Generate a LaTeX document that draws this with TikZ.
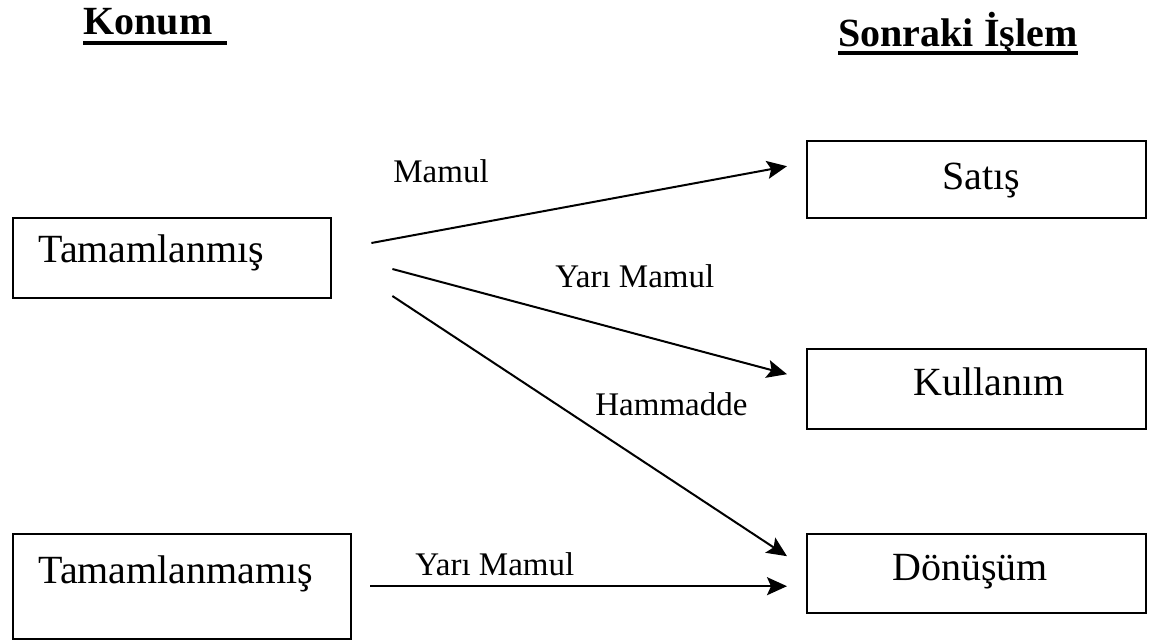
\documentclass[tikz,border=0pt]{standalone}
\usepackage{fontspec}
\setmainfont{Liberation Serif}
\usetikzlibrary{arrows.meta, calc, positioning}
\tikzset{
    box/.style={draw, line width=1.2pt, minimum width=169.5pt, minimum height=40pt, anchor=north west, inner sep=0pt},
    boxtext/.style={font=\fontsize{20}{24}\selectfont, anchor=base west, inner sep=0pt},
    flowlabel/.style={font=\fontsize{16.5}{20}\selectfont, anchor=base west, inner sep=0pt},
    header/.style={font=\fontsize{20}{24}\selectfont\bfseries, anchor=base west, inner sep=0pt},
    flow/.style={line width=1pt, -{Stealth[length=10pt, width=9pt, inset=2pt]}},
    uline/.style={line width=1.8pt}
}

\begin{document}
\begin{tikzpicture}[x=0.5pt, y=-0.5pt]
    \useasboundingbox (0,0) rectangle (1149,641);

    % Column headers
    \node[header] (konum) at (83,35) {Konum};
    \node[header] (sonraki) at (838,47) {Sonraki İşlem};
    \draw[uline] ($(konum.base west)+(0,8)$) -- ($(konum.base east)+(14,8)$);
    \draw[uline] ($(sonraki.base west)+(0,6)$) -- ($(sonraki.base east)+(0,6)$);

    % Left boxes (state)
    \node[box, minimum width=159pt] (tam) at (12,217) {};
    \node[boxtext] (tamt) at (38,263) {Tamamlanmış};
    \node[box, minimum width=169pt, minimum height=52.5pt] (tamz) at (12,533) {};
    \node[boxtext] (tamzt) at (38,583) {Tamamlanmamış};

    % Right boxes (next step)
    \node[box, minimum height=38.5pt] (satis) at (806,140) {};
    \node[boxtext] (satist) at (942,190) {Satış};
    \node[box] (kullanim) at (806,348) {};
    \node[boxtext] (kullanimt) at (913,395) {Kullanım};
    \node[box, minimum height=39.5pt] (donusum) at (806,533) {};
    \node[boxtext] (donusumt) at (892,580) {Dönüşüm};

    % Arrow ends
    \coordinate (tamA) at ($(tam.north east)+(39,26)$);
    \coordinate (tamB) at ($(tam.north east)+(60,52)$);
    \coordinate (tamC) at ($(tam.north east)+(60,79)$);
    \coordinate (tamzA) at ($(tamz.east)+(19,0)$);
    \coordinate (satisIn) at ($(satis.west)+(-19,-13.5)$);
    \coordinate (kullanimIn) at ($(kullanim.west)+(-19,-15)$);
    \coordinate (donusumInA) at ($(donusum.west)+(-19,-17.5)$);
    \coordinate (donusumInB) at ($(donusum.west)+(-19,12.5)$);

    % Flows
    \draw[flow] (tamA) -- (satisIn);
    \draw[flow] (tamB) -- (kullanimIn);
    \draw[flow] (tamC) -- (donusumInA);
    \draw[flow] (tamzA) |- (donusumInB);

    % Flow labels
    \node[flowlabel] (lmamul) at (393,183) {Mamul};
    \node[flowlabel] (lyari) at (555,287) {Yarı Mamul};
    \node[flowlabel] (lham) at (595,415) {Hammadde};
    \node[flowlabel] (lyari2) at (415,575) {Yarı Mamul};
\end{tikzpicture}
\end{document}
